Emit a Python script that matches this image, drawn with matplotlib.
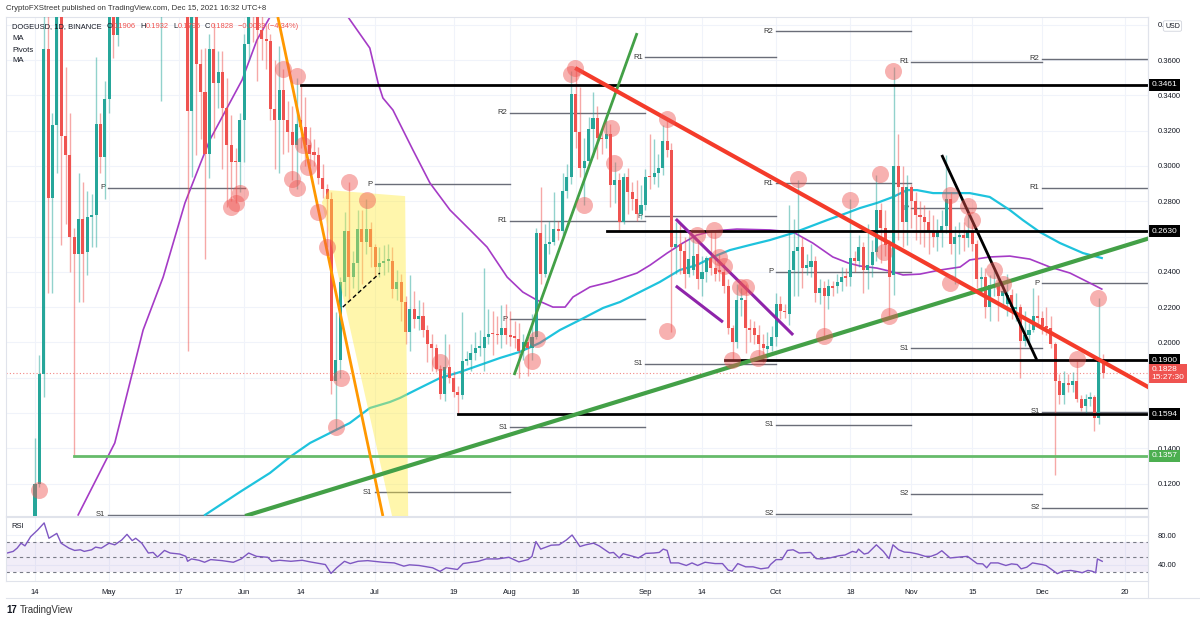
import matplotlib
matplotlib.use("Agg")
import matplotlib.pyplot as plt
from matplotlib.patches import Polygon
from matplotlib.lines import Line2D
import numpy as np

W, H = 1200, 622
plt.rcParams["font.family"] = ["Liberation Sans", "DejaVu Sans"]

UP, DOWN = "#26a69a", "#ef5350"
TXT = "#131722"
GRID = "#f0f3fa"
FRAME = "#e0e3eb"

# Daily candles, day 0 = 14 Apr 2021 ... day 245 = 15 Dec 2021
OPEN = [0.085, 0.120, 0.182, 0.366, 0.282, 0.323, 0.420, 0.317, 0.306, 0.260,
        0.250, 0.270, 0.251, 0.271, 0.272, 0.324, 0.305, 0.338, 0.400, 0.374,
        0.450, 0.530, 0.580, 0.650, 0.620, 0.700, 0.500, 0.550, 0.490, 0.440,
        0.500, 0.480, 0.520, 0.480, 0.500, 0.470, 0.331, 0.400, 0.358, 0.342,
        0.307, 0.366, 0.347, 0.353, 0.333, 0.312, 0.303, 0.302, 0.326, 0.369,
        0.400, 0.395, 0.377, 0.372, 0.371, 0.332, 0.326, 0.343, 0.326, 0.319,
        0.312, 0.326, 0.322, 0.312, 0.308, 0.306, 0.293, 0.287, 0.281, 0.178,
        0.190, 0.234, 0.263, 0.237, 0.245, 0.264, 0.257, 0.264, 0.254, 0.243,
        0.245, 0.246, 0.246, 0.230, 0.234, 0.223, 0.206, 0.219, 0.213, 0.215,
        0.207, 0.199, 0.197, 0.185, 0.171, 0.186, 0.180, 0.172, 0.170, 0.1895,
        0.190, 0.194, 0.197, 0.197, 0.203, 0.205, 0.2045, 0.204, 0.208, 0.204,
        0.203, 0.202, 0.195, 0.200, 0.197, 0.203, 0.262, 0.239, 0.256, 0.257,
        0.264, 0.263, 0.286, 0.294, 0.341, 0.319, 0.299, 0.303, 0.321, 0.327,
        0.316, 0.315, 0.318, 0.289, 0.292, 0.268, 0.294, 0.285, 0.281, 0.273,
        0.278, 0.294, 0.294, 0.296, 0.299, 0.314, 0.309, 0.254, 0.256, 0.252,
        0.239, 0.241, 0.250, 0.236, 0.240, 0.248, 0.242, 0.241, 0.240, 0.232,
        0.208, 0.200, 0.224, 0.224, 0.208, 0.208, 0.204, 0.199, 0.196, 0.198,
        0.203, 0.222, 0.218, 0.216, 0.241, 0.252, 0.254, 0.242, 0.243, 0.246,
        0.228, 0.231, 0.226, 0.232, 0.232, 0.234, 0.237, 0.237, 0.248, 0.246,
        0.254, 0.241, 0.244, 0.251, 0.275, 0.265, 0.255, 0.238, 0.300, 0.288,
        0.268, 0.288, 0.280, 0.272, 0.271, 0.268, 0.263, 0.260, 0.263, 0.266,
        0.281, 0.256, 0.260, 0.261, 0.259, 0.263, 0.256, 0.236, 0.237, 0.220,
        0.232, 0.233, 0.226, 0.222, 0.227, 0.219, 0.220, 0.201, 0.204, 0.207,
        0.215, 0.214, 0.209, 0.208, 0.199, 0.178, 0.170, 0.177, 0.176, 0.178,
        0.168, 0.164, 0.168, 0.169, 0.157, 0.1906]
HIGH = [0.146, 0.193, 0.450, 0.420, 0.330, 0.450, 0.440, 0.356, 0.330, 0.265,
        0.296, 0.291, 0.286, 0.284, 0.362, 0.330, 0.348, 0.420, 0.440, 0.470,
        0.560, 0.600, 0.700, 0.700, 0.740, 0.720, 0.570, 0.550, 0.520, 0.520,
        0.530, 0.530, 0.540, 0.520, 0.520, 0.500, 0.420, 0.410, 0.366, 0.367,
        0.375, 0.381, 0.365, 0.365, 0.350, 0.329, 0.310, 0.330, 0.375, 0.420,
        0.420, 0.400, 0.385, 0.380, 0.375, 0.360, 0.368, 0.355, 0.337, 0.334,
        0.350, 0.346, 0.339, 0.322, 0.315, 0.311, 0.301, 0.290, 0.285, 0.217,
        0.237, 0.274, 0.291, 0.252, 0.275, 0.275, 0.281, 0.268, 0.256, 0.254,
        0.255, 0.256, 0.254, 0.241, 0.239, 0.226, 0.238, 0.229, 0.224, 0.223,
        0.210, 0.205, 0.199, 0.187, 0.205, 0.199, 0.184, 0.175, 0.217, 0.195,
        0.199, 0.206, 0.207, 0.242, 0.219, 0.218, 0.215, 0.221, 0.222, 0.218,
        0.212, 0.211, 0.205, 0.205, 0.216, 0.265, 0.288, 0.267, 0.269, 0.285,
        0.269, 0.296, 0.301, 0.354, 0.356, 0.345, 0.316, 0.328, 0.342, 0.334,
        0.320, 0.326, 0.324, 0.302, 0.296, 0.296, 0.299, 0.291, 0.292, 0.289,
        0.298, 0.318, 0.315, 0.307, 0.323, 0.326, 0.313, 0.268, 0.267, 0.260,
        0.260, 0.261, 0.258, 0.249, 0.249, 0.263, 0.263, 0.250, 0.245, 0.236,
        0.210, 0.233, 0.231, 0.233, 0.213, 0.212, 0.210, 0.205, 0.206, 0.209,
        0.228, 0.226, 0.222, 0.278, 0.270, 0.292, 0.260, 0.250, 0.256, 0.249,
        0.236, 0.235, 0.236, 0.235, 0.239, 0.243, 0.242, 0.281, 0.252, 0.261,
        0.257, 0.267, 0.258, 0.295, 0.279, 0.275, 0.258, 0.356, 0.318, 0.300,
        0.295, 0.290, 0.285, 0.280, 0.278, 0.275, 0.272, 0.270, 0.275, 0.306,
        0.285, 0.266, 0.268, 0.268, 0.277, 0.269, 0.258, 0.243, 0.242, 0.238,
        0.241, 0.237, 0.233, 0.239, 0.230, 0.228, 0.222, 0.218, 0.211, 0.231,
        0.227, 0.218, 0.220, 0.215, 0.200, 0.182, 0.184, 0.182, 0.183, 0.190,
        0.170, 0.171, 0.172, 0.170, 0.225, 0.1932]
LOW = [0.080, 0.118, 0.169, 0.228, 0.228, 0.296, 0.255, 0.267, 0.240, 0.135,
       0.223, 0.223, 0.238, 0.254, 0.254, 0.296, 0.281, 0.330, 0.361, 0.368,
       0.420, 0.500, 0.550, 0.580, 0.600, 0.440, 0.430, 0.460, 0.420, 0.337,
       0.420, 0.450, 0.460, 0.440, 0.410, 0.195, 0.294, 0.306, 0.315, 0.247,
       0.293, 0.316, 0.333, 0.298, 0.277, 0.280, 0.279, 0.285, 0.302, 0.360,
       0.370, 0.348, 0.360, 0.355, 0.326, 0.298, 0.296, 0.307, 0.308, 0.292,
       0.287, 0.310, 0.300, 0.300, 0.300, 0.290, 0.282, 0.254, 0.171, 0.151,
       0.180, 0.226, 0.224, 0.231, 0.228, 0.233, 0.250, 0.243, 0.237, 0.237,
       0.238, 0.240, 0.225, 0.224, 0.212, 0.199, 0.195, 0.208, 0.207, 0.203,
       0.189, 0.184, 0.183, 0.168, 0.167, 0.177, 0.169, 0.1594, 0.168, 0.187,
       0.184, 0.190, 0.192, 0.184, 0.199, 0.193, 0.199, 0.197, 0.199, 0.198,
       0.197, 0.180, 0.190, 0.181, 0.190, 0.202, 0.233, 0.237, 0.250, 0.255,
       0.258, 0.260, 0.282, 0.290, 0.310, 0.294, 0.278, 0.300, 0.305, 0.304,
       0.307, 0.310, 0.277, 0.279, 0.263, 0.267, 0.273, 0.275, 0.269, 0.270,
       0.275, 0.287, 0.290, 0.288, 0.295, 0.305, 0.206, 0.239, 0.239, 0.231,
       0.237, 0.238, 0.230, 0.226, 0.234, 0.238, 0.235, 0.235, 0.228, 0.205,
       0.190, 0.197, 0.215, 0.194, 0.200, 0.199, 0.191, 0.189, 0.191, 0.195,
       0.198, 0.213, 0.214, 0.210, 0.226, 0.226, 0.231, 0.238, 0.237, 0.223,
       0.222, 0.203, 0.219, 0.226, 0.228, 0.229, 0.232, 0.232, 0.240, 0.243,
       0.228, 0.230, 0.237, 0.246, 0.245, 0.249, 0.215, 0.227, 0.258, 0.254,
       0.255, 0.265, 0.258, 0.256, 0.254, 0.250, 0.254, 0.252, 0.254, 0.262,
       0.250, 0.233, 0.250, 0.252, 0.254, 0.252, 0.231, 0.228, 0.214, 0.212,
       0.226, 0.212, 0.220, 0.215, 0.213, 0.212, 0.180, 0.198, 0.200, 0.206,
       0.210, 0.205, 0.204, 0.197, 0.125, 0.165, 0.165, 0.172, 0.172, 0.166,
       0.161, 0.159, 0.164, 0.150, 0.154, 0.1796]
CLOSE = [0.120, 0.182, 0.366, 0.282, 0.323, 0.420, 0.317, 0.306, 0.260, 0.250,
         0.270, 0.250, 0.271, 0.272, 0.324, 0.305, 0.338, 0.400, 0.374, 0.450,
         0.530, 0.580, 0.650, 0.620, 0.700, 0.500, 0.550, 0.490, 0.440, 0.500,
         0.480, 0.520, 0.480, 0.500, 0.470, 0.331, 0.400, 0.358, 0.342, 0.307,
         0.366, 0.347, 0.353, 0.333, 0.312, 0.302, 0.302, 0.326, 0.369, 0.400,
         0.395, 0.377, 0.372, 0.371, 0.332, 0.326, 0.343, 0.326, 0.319, 0.312,
         0.324, 0.322, 0.312, 0.307, 0.306, 0.293, 0.287, 0.281, 0.178, 0.190,
         0.234, 0.263, 0.237, 0.245, 0.264, 0.257, 0.264, 0.254, 0.243, 0.245,
         0.246, 0.247, 0.230, 0.234, 0.223, 0.206, 0.219, 0.213, 0.215, 0.207,
         0.199, 0.197, 0.185, 0.171, 0.186, 0.180, 0.172, 0.170, 0.1895, 0.190,
         0.194, 0.197, 0.1975, 0.203, 0.205, 0.2045, 0.204, 0.208, 0.204, 0.203,
         0.2025, 0.195, 0.200, 0.197, 0.203, 0.262, 0.239, 0.256, 0.257, 0.264,
         0.263, 0.286, 0.294, 0.341, 0.319, 0.299, 0.303, 0.321, 0.327, 0.316,
         0.315, 0.318, 0.289, 0.292, 0.268, 0.294, 0.285, 0.281, 0.273, 0.278,
         0.294, 0.2935, 0.296, 0.299, 0.314, 0.309, 0.254, 0.256, 0.252, 0.239,
         0.247, 0.249, 0.236, 0.240, 0.248, 0.242, 0.239, 0.240, 0.232, 0.208,
         0.200, 0.224, 0.2245, 0.208, 0.207, 0.204, 0.199, 0.197, 0.198, 0.203,
         0.222, 0.218, 0.217, 0.241, 0.252, 0.254, 0.242, 0.244, 0.246, 0.228,
         0.231, 0.226, 0.232, 0.231, 0.234, 0.237, 0.2365, 0.248, 0.246, 0.254,
         0.241, 0.244, 0.251, 0.275, 0.265, 0.255, 0.237, 0.300, 0.288, 0.268,
         0.288, 0.280, 0.272, 0.271, 0.268, 0.263, 0.260, 0.263, 0.266, 0.281,
         0.256, 0.260, 0.261, 0.259, 0.263, 0.256, 0.236, 0.237, 0.220, 0.2325,
         0.233, 0.226, 0.229, 0.227, 0.220, 0.220, 0.201, 0.204, 0.207, 0.215,
         0.214, 0.209, 0.208, 0.199, 0.178, 0.170, 0.177, 0.176, 0.178, 0.168,
         0.163, 0.168, 0.169, 0.157, 0.1906, 0.1828]

# moving averages
MA_PURPLE_DAY = [9.9, 18.3, 24.8, 29.4, 34.4, 37.8, 40.1, 47.5, 50.9, 53.9, 58.0, 67.0,
                 71.8, 76.8, 78.7, 79.8, 82.1, 86.7, 90.6, 95.2, 99.8, 103.7, 108.3,
                 111.9, 115.1, 118.8, 121.6, 123.4, 127.3, 131.9, 138.1, 141.1, 145.0,
                 148.6, 151.8, 155.5, 161.0, 168.6, 173.9, 178.4, 183.0, 186.5, 189.2,
                 193.1, 196.8, 199.1, 203.0, 207.6, 212.2, 214.4, 219.0, 223.6, 228.2,
                 232.8, 237.4, 242.0, 244.7]
MA_PURPLE = [0.1022, 0.1430, 0.2070, 0.2370, 0.2790, 0.3005, 0.3147, 0.3487, 0.3713, 0.3844,
             0.41, 0.41, 0.3844, 0.3668, 0.3470, 0.3385, 0.3317, 0.3090, 0.2903, 0.2750,
             0.2637, 0.2540, 0.2370, 0.2285, 0.2240, 0.2200, 0.2200, 0.2257, 0.2314, 0.2342,
             0.2393, 0.2438, 0.2506, 0.2563, 0.2608, 0.2631, 0.2642, 0.2637, 0.2625, 0.2563,
             0.2484, 0.2450, 0.2433, 0.2421, 0.2399, 0.2382, 0.2387, 0.2410, 0.2427, 0.2467,
             0.2484, 0.2489, 0.2472, 0.2427, 0.2393, 0.2336, 0.2302]
MA_CYAN_DAY = [39.0, 47.0, 53.9, 58.5, 63.1, 67.7, 72.2, 76.8, 81.4, 83.7, 88.3, 92.9,
               97.5, 102.1, 106.7, 111.2, 115.8, 120.4, 125.0, 130.3, 134.2, 138.8, 143.3,
               147.9, 151.8, 155.5, 159.4, 164.0, 168.6, 173.9, 181.7, 186.2, 189.2, 193.1,
               196.8, 200.0, 202.3, 206.0, 210.6, 214.4, 219.0, 223.6, 226.6, 230.5, 235.1,
               240.4, 244.7]
MA_CYAN = [0.1022, 0.1152, 0.1260, 0.1351, 0.1430, 0.1487, 0.1543, 0.1628, 0.1662, 0.1685,
           0.1742, 0.1798, 0.1832, 0.1872, 0.1912, 0.1946, 0.1997, 0.2070, 0.2127, 0.2195,
           0.2229, 0.2286, 0.2342, 0.2410, 0.2438, 0.2484, 0.2523, 0.2552, 0.2580, 0.2620,
           0.2693, 0.2733, 0.2761, 0.2790, 0.2824, 0.2863, 0.2863, 0.2846, 0.2846, 0.2846,
           0.2824, 0.2750, 0.2693, 0.2625, 0.2563, 0.2506, 0.2478]

# monthly pivots: start day, end day, price, label
PIV_START = [16.7, 16.7, 78, 78, 109, 109, 109, 109, 140, 140, 140,
             170, 170, 170, 170, 170, 201, 201, 201, 201, 231, 231, 231, 231, 231]
PIV_END = [48.2, 48.2, 109, 109, 140, 140, 140, 140, 170, 170, 170,
           201, 201, 201, 201, 201, 231, 231, 231, 231, 256, 256, 256, 256, 256]
PIV_PRICE = [0.2875, 0.1022, 0.2897, 0.1152, 0.3300, 0.2688, 0.2132, 0.1520, 0.3617, 0.2716, 0.1878,
             0.3764, 0.2903, 0.2399, 0.1532, 0.1028, 0.3589, 0.2761, 0.1968, 0.1141,
             0.3606, 0.2875, 0.2336, 0.1606, 0.1062]
PIV_LABEL = ["P", "S1", "P", "S1", "R2", "R1", "P", "S1", "R1", "P", "S1",
             "R2", "R1", "P", "S1", "S2", "R1", "P", "S1", "S2", "R2", "R1", "P", "S1", "S2"]

# horizontal levels
LEVEL_PRICE = [0.3461, 0.2630, 0.1900, 0.1594]
LEVEL_START = [61.0, 131.2, 158.3, 97.0]
GREEN_LEVEL, GREEN_START = 0.1357, 9.0
LAST_PRICE = 0.1828

# drawn trend lines: (day0, price0, day1, price1)
ORANGE_LINE = (55.7, 0.3844, 79.8, 0.1016)
GREEN_THIN = (109.9, 0.1815, 138.1, 0.3753)
GREEN_THICK = (48.2, 0.1016, 255.7, 0.2591)
RED_LINE = (123.9, 0.3555, 255.7, 0.1742)
BLACK_LINE = (208.0, 0.3062, 229.8, 0.1900)
PURPLE_UPPER = (147.0, 0.2699, 173.9, 0.2042)
PURPLE_LOWER = (147.0, 0.2320, 157.8, 0.2115)
DASHED_LINE = (70.6, 0.2200, 79.1, 0.2393)
YELLOW_DAY = [67.4, 84.9, 85.6, 81.9, 65.8]
YELLOW_PRICE = [0.2863, 0.2829, 0.1016, 0.1016, 0.2795]

# highlighted touch points
CIRCLE_DAY = [0.9, 45.0, 46.1, 47.0, 56.9, 60.1, 58.9, 60.1, 61.5, 62.6, 64.9, 67.0, 69.0,
              70.2, 72.0, 76.1, 92.9, 114.0, 115.1, 122.9, 123.9, 125.9, 132.1, 132.8,
              145.0, 145.0, 151.8, 155.7, 156.9, 158.0, 161.7, 163.1, 159.9, 165.8, 175.0,
              181.0, 186.9, 193.8, 194.7, 195.9, 196.8, 209.9, 209.9, 214.0, 214.9, 220.0,
              222.0, 239.0, 243.8]
CIRCLE_PRICE = [0.1164, 0.2767, 0.2790, 0.2846, 0.3549, 0.3509, 0.2926, 0.2875, 0.3118,
                0.2994, 0.2739, 0.2540, 0.1520, 0.1798, 0.2909, 0.2807, 0.1889, 0.1895,
                0.2019, 0.3521, 0.3555, 0.2778, 0.3215, 0.3016, 0.3266, 0.2065, 0.2608,
                0.2637, 0.2484, 0.2433, 0.2314, 0.2314, 0.1900, 0.1912, 0.2926, 0.2036,
                0.2807, 0.2954, 0.2512, 0.2150, 0.3538, 0.2835, 0.2336, 0.2773, 0.2693,
                0.2410, 0.2331, 0.1906, 0.2251]

RSI_DAY = [-6.4, -5.0, -4.1, -3.2, -2.3, -1.0, 0.6, 2.1, 3.2, 5.0,
           6.0, 7.8, 9.1, 10.4, 11.3, 13.0, 13.9, 15.2, 17.0, 18.3,
           19.9, 21.1, 22.3, 23.1, 24.5, 26.0, 27.1, 28.1, 29.7, 31.0,
           33.2, 34.6, 35.0, 35.9, 37.6, 38.9, 40.3, 42.9, 45.5, 47.3,
           49.0, 50.8, 53.4, 54.3, 56.1, 58.7, 61.3, 63.1, 66.6, 67.9,
           69.2, 71.0, 72.3, 74.1, 76.3, 79.8, 82.4, 84.6, 85.9, 88.1,
           91.2, 92.9, 94.3, 96.9, 98.2, 101.7, 103.5, 106.1, 108.7, 111.0,
           113.1, 114.0, 114.9, 116.0, 118.4, 120.2, 121.9, 123.2, 125.0, 126.3,
           128.1, 129.4, 131.8, 132.7, 134.0, 134.9, 136.6, 138.4, 140.1, 141.9,
           143.2, 144.1, 145.0, 145.8, 147.6, 149.4, 150.7, 152.0, 153.7, 156.0,
           157.7, 159.0, 159.9, 161.2, 163.0, 164.7, 166.5, 168.2, 168.7, 170.0,
           171.3, 172.6, 173.9, 175.3, 177.9, 179.2, 180.5, 182.3, 184.5, 185.8,
           187.5, 188.4, 188.9, 190.2, 191.1, 193.0, 194.6, 195.9, 196.8, 198.1,
           199.4, 200.7, 202.5, 204.2, 205.5, 206.9, 208.0, 209.9, 212.1, 213.9,
           216.1, 217.4, 218.3, 219.2, 220.9, 222.7, 224.0, 225.3, 226.2, 227.5,
           228.8, 231.0, 231.9, 233.2, 234.5, 235.8, 237.6, 239.3, 240.2, 241.5,
           242.4, 243.3, 243.7, 244.8]
RSI = [55.6, 57.8, 62.2, 68.9, 65.3, 77.8, 86.7, 96.4, 75.6, 82.2,
       68.9, 62.2, 59.1, 60.0, 57.8, 60.0, 63.6, 62.2, 68.9, 66.7,
       73.3, 80.9, 72.4, 75.6, 68.9, 55.6, 56.4, 50.2, 59.1, 55.6,
       54.2, 51.1, 44.4, 47.6, 45.8, 43.1, 46.7, 45.3, 43.1, 47.6,
       55.6, 51.1, 49.8, 44.4, 45.8, 44.4, 45.8, 43.6, 40.0, 28.0,
       35.6, 44.4, 41.3, 44.4, 45.3, 43.1, 42.2, 37.8, 39.6, 38.7,
       35.6, 30.7, 35.6, 33.3, 41.3, 44.4, 47.6, 47.6, 49.8, 43.6,
       46.7, 51.1, 71.1, 60.9, 66.2, 66.7, 73.3, 80.0, 64.4, 66.7,
       68.9, 65.3, 55.6, 56.4, 48.9, 54.7, 52.0, 48.9, 55.1, 55.6,
       56.4, 60.9, 59.1, 42.2, 42.2, 38.7, 42.2, 38.7, 43.1, 41.3,
       41.3, 32.4, 31.1, 41.3, 36.9, 36.9, 34.2, 35.6, 40.0, 46.7,
       46.7, 59.1, 60.0, 55.6, 56.4, 48.0, 47.6, 48.9, 52.0, 52.9,
       57.8, 56.4, 60.9, 54.2, 55.6, 66.7, 57.8, 48.0, 66.7, 60.0,
       56.9, 56.4, 54.2, 51.1, 51.1, 54.2, 58.7, 48.9, 50.2, 51.1,
       41.3, 40.9, 35.6, 42.2, 42.2, 38.7, 40.9, 40.0, 34.2, 36.4,
       42.2, 40.0, 38.7, 33.3, 27.6, 31.1, 32.0, 30.2, 28.9, 32.0,
       31.1, 28.9, 47.6, 44.4]

TICK_DAYS = [0, 17, 33, 48, 61, 78, 96, 109, 124, 140, 153, 170, 187, 201, 215, 231, 250]
TICK_LABELS = ["14", "May", "17", "Jun", "14", "Jul", "19", "Aug", "16", "Sep",
               "14", "Oct", "18", "Nov", "15", "Dec", "20"]
PRICE_TICKS = [0.12, 0.14, 0.16, 0.18, 0.20, 0.22, 0.24, 0.26, 0.28, 0.30, 0.32, 0.34, 0.36, 0.38]
# ticks whose labels sit under a badge (or the USD box) in the reference
HIDDEN_TICKS = [0.16, 0.18, 0.26]


def fx(x):
    return x / W


def fy(y):
    return 1 - y / H


def seg(ax, line, **kw):
    ax.plot([line[0], line[2]], [line[1], line[3]], solid_capstyle="butt", **kw)


def price_label(v, pos):
    if any(abs(v - t) < 1e-6 for t in HIDDEN_TICKS):
        return ""
    if abs(v - 0.38) < 1e-6:
        return "0."
    return f"{v:.4f}"


fig = plt.figure(figsize=(W / 100, H / 100), dpi=100)
ax = fig.add_axes([fx(6), fy(516), fx(1148) - fx(6), fy(17) - fy(516)])
rax = fig.add_axes([fx(6), fy(581), fx(1148) - fx(6), fy(517) - fy(581)], sharex=ax)

ax.set_xlim(-6.65, 255.3)
ax.set_ylim(0.1016, 0.3844)

o, h, l, c = map(np.array, (OPEN, HIGH, LOW, CLOSE))
days = np.arange(len(o))
up = c >= o
cols = np.where(up, UP, DOWN)
ax.vlines(days, l, h, colors=cols, lw=1, alpha=0.5, zorder=3)
ax.bar(days, np.maximum(np.abs(c - o), 0.0009), bottom=np.minimum(o, c), width=0.7,
       color=cols, lw=0, zorder=3.2)

# moving averages
ax.plot(MA_CYAN_DAY, MA_CYAN, color="#1ec3dd", lw=1.6, zorder=2.5)
ax.plot(MA_PURPLE_DAY, MA_PURPLE, color="#a53bc6", lw=1.2, zorder=2.5)

# pivots
for s, e, p, lab in zip(PIV_START, PIV_END, PIV_PRICE, PIV_LABEL):
    ax.plot([s, e], [p, p], color="#6a6d78", lw=1, zorder=2)
    ax.text(s - 0.6, p, lab, ha="right", va="center", fontsize=5.5, color="#333", zorder=2)

# yellow zone over candles
ax.add_patch(Polygon(list(zip(YELLOW_DAY, YELLOW_PRICE)), closed=True, fc="#ffeb3b",
                     alpha=0.42, ec="none", zorder=4))

# last-price dotted line
ax.axhline(LAST_PRICE, color=DOWN, lw=0.8, ls=(0, (1, 2)), alpha=0.7, zorder=2)

# levels
for p, s in zip(LEVEL_PRICE, LEVEL_START):
    ax.plot([s, 256], [p, p], color="black", lw=2, zorder=5)
ax.plot([GREEN_START, 256], [GREEN_LEVEL] * 2, color="#66bb6a", lw=2, zorder=5)

seg(ax, ORANGE_LINE, color="#ff9800", lw=2, zorder=5)
seg(ax, GREEN_THIN, color="#43a047", lw=2, zorder=5)
seg(ax, GREEN_THICK, color="#43a047", lw=3, zorder=5)
seg(ax, RED_LINE, color="#f43b2a", lw=3, zorder=5)
seg(ax, BLACK_LINE, color="black", lw=2, zorder=5)
seg(ax, PURPLE_UPPER, color="#8e24aa", lw=2.2, zorder=5)
seg(ax, PURPLE_LOWER, color="#8e24aa", lw=2.2, zorder=5)
seg(ax, DASHED_LINE, color="black", lw=1, ls=(0, (3, 2)), zorder=5)

ax.scatter(CIRCLE_DAY, CIRCLE_PRICE, s=150, color="#ef5350", alpha=0.45, lw=0, zorder=6)

# axes styling
ax.set_xticks(TICK_DAYS)
ax.set_yticks(PRICE_TICKS)
ax.grid(True, color=GRID, lw=0.8, zorder=0)
ax.set_axisbelow(True)
ax.yaxis.tick_right()
ax.yaxis.set_major_formatter(plt.FuncFormatter(price_label))
ax.tick_params(axis="y", length=0, pad=7, labelsize=5.5, labelcolor=TXT)
ax.tick_params(axis="x", length=0, labelbottom=False)
for sp in ax.spines.values():
    sp.set_color(FRAME)
    sp.set_linewidth(0.8)

# price badges on the axis
badge_kw = dict(transform=ax.get_yaxis_transform(), ha="left", va="center", fontsize=6,
                color="white", zorder=10, clip_on=False)
for p in LEVEL_PRICE:
    ax.text(1.003, p, f"{p:.4f}", bbox=dict(boxstyle="square,pad=0.3", fc="black", ec="none"),
            **badge_kw)
ax.text(1.003, GREEN_LEVEL, f"{GREEN_LEVEL:.4f}",
        bbox=dict(boxstyle="square,pad=0.3", fc="#4caf50", ec="none"), **badge_kw)
ax.annotate(f"{LAST_PRICE:.4f}\n15:27:30", xy=(1.003, LAST_PRICE),
            xycoords=("axes fraction", "data"), xytext=(0, 4.5), textcoords="offset points",
            ha="left", va="top", fontsize=6, color="white", linespacing=1.05, zorder=10,
            bbox=dict(boxstyle="square,pad=0.3", fc="#ef5350", ec="none"), annotation_clip=False)

# RSI panel
rax.set_ylim(17.7, 104.4)
rax.axhspan(30, 70, color="#7e57c2", alpha=0.1, lw=0)
for lvl in (70, 50, 30):
    rax.axhline(lvl, color="#787b86", lw=0.8, ls=(0, (3, 3)))
rax.plot(RSI_DAY, RSI, color="#7e57c2", lw=1)
rax.set_yticks([40, 80])
rax.set_yticklabels(["40.00", "80.00"])
rax.yaxis.tick_right()
rax.tick_params(axis="y", length=0, pad=7, labelsize=5.5, labelcolor=TXT)
rax.set_xticks(TICK_DAYS)
rax.set_xticklabels(TICK_LABELS)
rax.tick_params(axis="x", length=0, pad=6, labelsize=5.5, labelcolor=TXT)
rax.grid(True, color=GRID, lw=0.8)
rax.set_axisbelow(True)
for sp in rax.spines.values():
    sp.set_color(FRAME)
    sp.set_linewidth(0.8)
rax.text(0.005, 0.9, "RSI", transform=rax.transAxes, fontsize=5.5, color=TXT, va="top")

# frame lines outside the axes
fig.add_artist(Line2D([fx(6), 1], [fy(598)] * 2, color=FRAME, lw=0.8))
fig.add_artist(Line2D([fx(1148)] * 2, [fy(17), fy(598)], color=FRAME, lw=0.8))

# header and legend
fig.text(fx(6), fy(8), "CryptoFXStreet published on TradingView.com, Dec 15, 2021 16:32 UTC+8",
         fontsize=5.6, color="#333", va="center")

renderer = fig.canvas.get_renderer()
x = 12
legend_parts = [("DOGEUSD, 1D, BINANCE", TXT, 5), ("O", TXT, 0.5), ("0.1906", DOWN, 4),
                ("H", TXT, 0.5), ("0.1932", DOWN, 4), ("L", TXT, 0.5), ("0.1796", DOWN, 4),
                ("C", TXT, 0.5), ("0.1828", DOWN, 4), ("\u22120.0083 (\u22124.34%)", DOWN, 0)]
for t, col, gap in legend_parts:
    txt = fig.text(fx(x), fy(27), t, fontsize=5.4, color=col, va="center")
    x = txt.get_window_extent(renderer).x1 + gap
for y, t in [(38, "MA"), (50, "Pivots"), (61, "MA")]:
    fig.text(fx(12), fy(y), t, fontsize=5.6, color=TXT, va="center")
fig.text(fx(1165), fy(26), "USD", fontsize=5, color=TXT, va="center",
         bbox=dict(boxstyle="round,pad=0.25", fc="white", ec="#d1d4dc", lw=0.6), zorder=20)

fig.text(fx(6), fy(610), "17", fontsize=7, fontweight="heavy", color=TXT, va="center")
fig.text(fx(20), fy(610), "TradingView", fontsize=7, color="#333", va="center")

fig.savefig("out.png", dpi=100, facecolor="white")
